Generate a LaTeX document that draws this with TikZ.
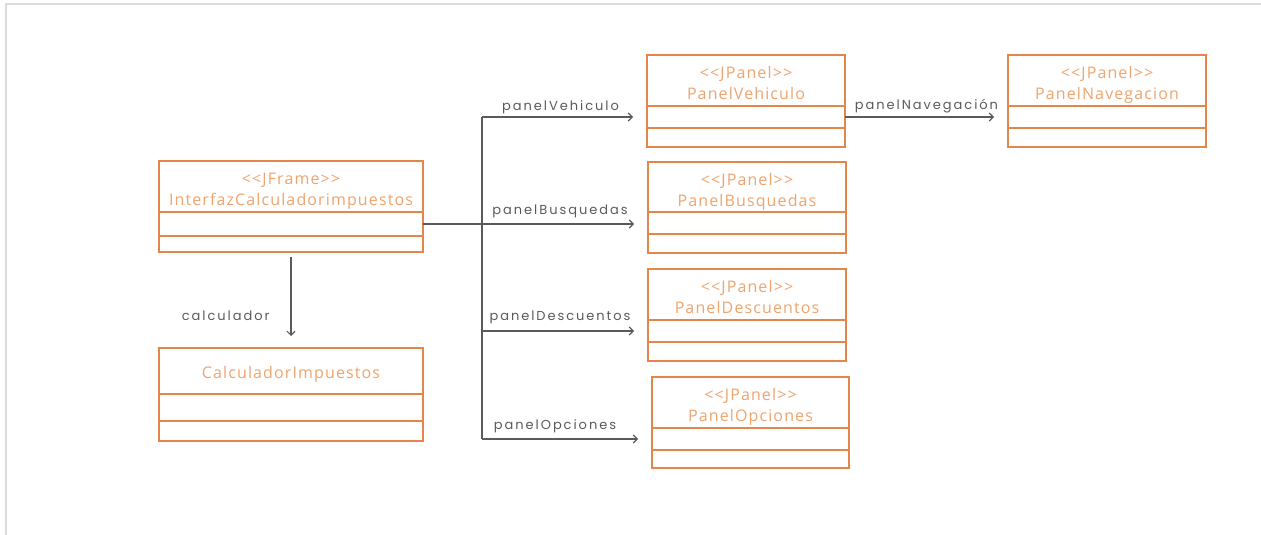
\documentclass[tikz,border=0pt]{standalone}
\usepackage{fontspec}
\setmainfont[LetterSpace=7]{Open Sans}
\newfontfamily\lblfont[LetterSpace=15]{Poppins}
\usetikzlibrary{arrows.meta,positioning}
\definecolor{ClassOrange}{HTML}{E4864A}
\definecolor{TextOrange}{HTML}{EFA46E}
\definecolor{LineGray}{HTML}{5A5A5A}
\definecolor{FrameGray}{HTML}{DCDCDC}
\newcommand{\stereo}[1]{{<}{<}#1{>}{>}}

\begin{document}
\begin{tikzpicture}[
    x=1pt, y=-1pt,
    cls/.style={rectangle,draw=ClassOrange,line width=1.6pt,fill=white,
      text=TextOrange,font=\fontsize{16}{21}\selectfont,align=center,
      inner sep=0pt,outer sep=0pt,minimum width=#1,minimum height=51pt,
      execute at begin node={\rule{0pt}{18pt}}},
    cls/.default=198pt,
    duo/.style={text height=38pt,text depth=0pt},
    slot/.style={rectangle,draw=ClassOrange,line width=1.6pt,inner sep=0pt,
      outer sep=0pt,minimum width=#1,minimum height=22pt},
    slot/.default=198pt,
    link/.style={draw=LineGray,line width=1.1pt},
    assoc/.style={link,-{Straight Barb[length=4pt,width=8pt]},shorten >=14pt},
    lbl/.style={font=\lblfont\fontsize{13}{13}\selectfont,text=LineGray,inner sep=3pt},
  ]
  \useasboundingbox (0,0) rectangle (1261,535);
  \draw[FrameGray,line width=1.5pt] (6,535) -- (6,4) -- (1261,4);
  % Frame and calculator
  \node[cls=264pt,duo] (intf) at (291,186.5) {\stereo{JFrame}\\InterfazCalculadorimpuestos};
  \node[slot=264pt,minimum height=24pt,below=0pt of intf] (intf2) {};
  \node[slot=264pt,minimum height=16pt,below=0pt of intf2] (intf3) {};
  \node[cls=264pt,minimum height=46pt] (calc) at (291,371) {CalculadorImpuestos};
  \node[slot=264pt,minimum height=27pt,below=0pt of calc] (calc2) {};
  \node[slot=264pt,minimum height=20pt,below=0pt of calc2] (calc3) {};
  % Panels
  \node[cls,duo] (veh) at (746,80.5) {\stereo{JPanel}\\PanelVehiculo};
  \node[slot,below=0pt of veh] (veh2) {};
  \node[slot,minimum height=19pt,below=0pt of veh2] (veh3) {};
  \node[cls,duo,minimum height=50pt] (busq) at (747,187) {\stereo{JPanel}\\PanelBusquedas};
  \node[slot,below=0pt of busq] (busq2) {};
  \node[slot,minimum height=19pt,below=0pt of busq2] (busq3) {};
  \node[cls,duo] (desc) at (747,294.5) {\stereo{JPanel}\\PanelDescuentos};
  \node[slot,below=0pt of desc] (desc2) {};
  \node[slot,minimum height=19pt,below=0pt of desc2] (desc3) {};
  \node[cls=197pt,duo] (opc) at (750.5,402.5) {\stereo{JPanel}\\PanelOpciones};
  \node[slot=197pt,below=0pt of opc] (opc2) {};
  \node[slot=197pt,minimum height=18pt,below=0pt of opc2] (opc3) {};
  \node[cls,duo] (nav) at (1107,80.5) {\stereo{JPanel}\\PanelNavegacion};
  \node[slot,below=0pt of nav] (nav2) {};
  \node[slot,minimum height=19pt,below=0pt of nav2] (nav3) {};
  % Associations
  \path (intf2.east) -- ++(59,0) coordinate (fork);
  \draw[link] (intf2.east) -- (fork);
  \draw[link] (fork |- veh2.west) -- (fork |- opc2.west);
  \draw[assoc] (fork |- veh2.west) -- (veh2.west)
    node[lbl,midway,above,xshift=-4pt] {panelVehiculo};
  \draw[assoc] (fork) -- (fork -| busq2.west)
    node[lbl,midway,above,xshift=-5pt,yshift=3pt] {panelBusquedas};
  \draw[assoc] (fork |- desc2.west) -- (desc2.west)
    node[lbl,midway,above,xshift=-5pt,yshift=4pt] {panelDescuentos};
  \draw[assoc] (fork |- opc2.west) -- (opc2.west)
    node[lbl,midway,above,xshift=-12pt,yshift=3pt] {panelOpciones};
  \draw[assoc] (veh2.east) -- (nav2.west) node[lbl,midway,above] {panelNavegación};
  \draw[assoc,shorten <=5pt,shorten >=12pt] (intf3.south) -- (calc.north)
    node[lbl,pos=0.66,left=18pt] {calculador};
\end{tikzpicture}
\end{document}
